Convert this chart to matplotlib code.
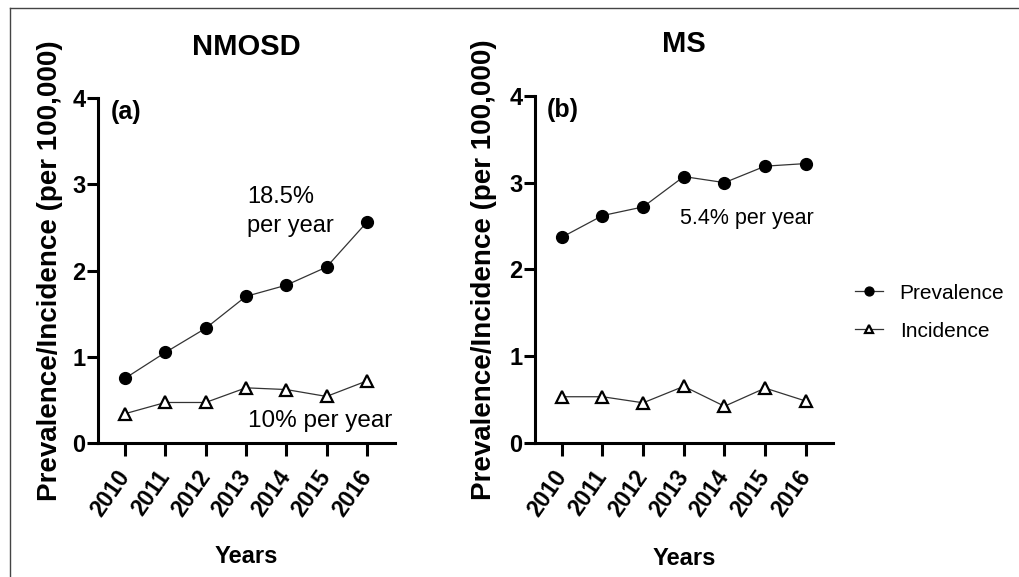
import matplotlib
matplotlib.use('Agg')
import matplotlib.pyplot as plt
from matplotlib.lines import Line2D

plt.rcParams['font.family'] = ['Liberation Sans', 'DejaVu Sans']

# 数据
years = [2010, 2011, 2012, 2013, 2014, 2015, 2016]
nmosd_prev = [0.75, 1.05, 1.33, 1.70, 1.83, 2.04, 2.56]
nmosd_inc = [0.34, 0.47, 0.47, 0.64, 0.62, 0.54, 0.72]
ms_prev = [2.37, 2.62, 2.72, 3.07, 3.00, 3.19, 3.22]
ms_inc = [0.53, 0.53, 0.46, 0.65, 0.42, 0.63, 0.48]
y_ticks = [0, 1, 2, 3, 4]

fig = plt.figure(figsize=(10.2, 5.77), dpi=100)
ax1 = fig.add_axes([0.0961, 0.2322, 0.2912, 0.5979])
ax2 = fig.add_axes([0.5245, 0.2328, 0.2922, 0.6009])

line_kw = dict(color='#333333', linewidth=0.9)


def draw_panel(ax, prev, inc, title, tag, title_y, label_x, xlab_y, xlim):
    ax.plot(years, prev, marker='o', markersize=8.5, markerfacecolor='black',
            markeredgecolor='black', label='Prevalence', **line_kw)
    ax.plot(years, inc, marker='^', markersize=8.5, markerfacecolor='white',
            markeredgecolor='black', markeredgewidth=1.6, label='Incidence', **line_kw)
    ax.set_xlim(*xlim)
    ax.set_ylim(0, 4)
    ax.set_xticks(years)
    ax.set_yticks(y_ticks)
    for s in ['top', 'right']:
        ax.spines[s].set_visible(False)
    for s in ['left', 'bottom']:
        ax.spines[s].set_linewidth(2.2)
    ax.tick_params(axis='x', length=9.5, width=2.2, pad=12, labelsize=16.5)
    ax.tick_params(axis='y', length=8, width=2.2, pad=1, labelsize=17)
    for lab in ax.get_xticklabels() + ax.get_yticklabels():
        lab.set_fontweight('bold')
    plt.setp(ax.get_xticklabels(), rotation=55, ha='right', va='center',
             rotation_mode='anchor')
    ax.text(0.5, title_y, title, transform=ax.transAxes, ha='center',
            va='baseline', fontsize=21, fontweight='bold')
    ax.text(label_x, 0.5, 'Prevalence/Incidence (per 100,000)', transform=ax.transAxes,
            rotation=90, ha='center', va='center', fontsize=20, fontweight='bold')
    ax.text(0.5, xlab_y, 'Years', transform=ax.transAxes, ha='center',
            va='baseline', fontsize=17, fontweight='bold')
    ax.text(2009.64, 3.98, tag, ha='left', va='top', fontsize=18, fontweight='bold')


draw_panel(ax1, nmosd_prev, nmosd_inc, 'NMOSD', '(a)', 1.125, -0.162, -0.348,
           (2009.33, 2016.7))
draw_panel(ax2, ms_prev, ms_inc, 'MS', '(b)', 1.128, -0.171, -0.353,
           (2009.34, 2016.67))

ax1.text(2013.03, 2.98, '18.5%\nper year', ha='left', va='top', fontsize=17,
         linespacing=1.4)
ax1.text(2013.05, 0.385, '10% per year', ha='left', va='top', fontsize=17.5)
ax2.text(2012.91, 2.71, '5.4% per year', ha='left', va='top', fontsize=15.5)

# 图例
handles, labels = ax1.get_legend_handles_labels()
fig.legend(handles, labels, loc='center left', bbox_to_anchor=(0.830, 0.459),
           frameon=False, fontsize=15, handlelength=1.35, handletextpad=0.8,
           labelspacing=0.9, borderaxespad=0, markerscale=0.75)

# 外框线
fig.add_artist(Line2D([10 / 1020, 1], [1 - 8 / 577, 1 - 8 / 577],
                      transform=fig.transFigure, color='#444444', linewidth=1))
fig.add_artist(Line2D([10 / 1020, 10 / 1020], [0, 1 - 8 / 577],
                      transform=fig.transFigure, color='#444444', linewidth=1))

fig.savefig('out.png', dpi=100)
plt.close(fig)
